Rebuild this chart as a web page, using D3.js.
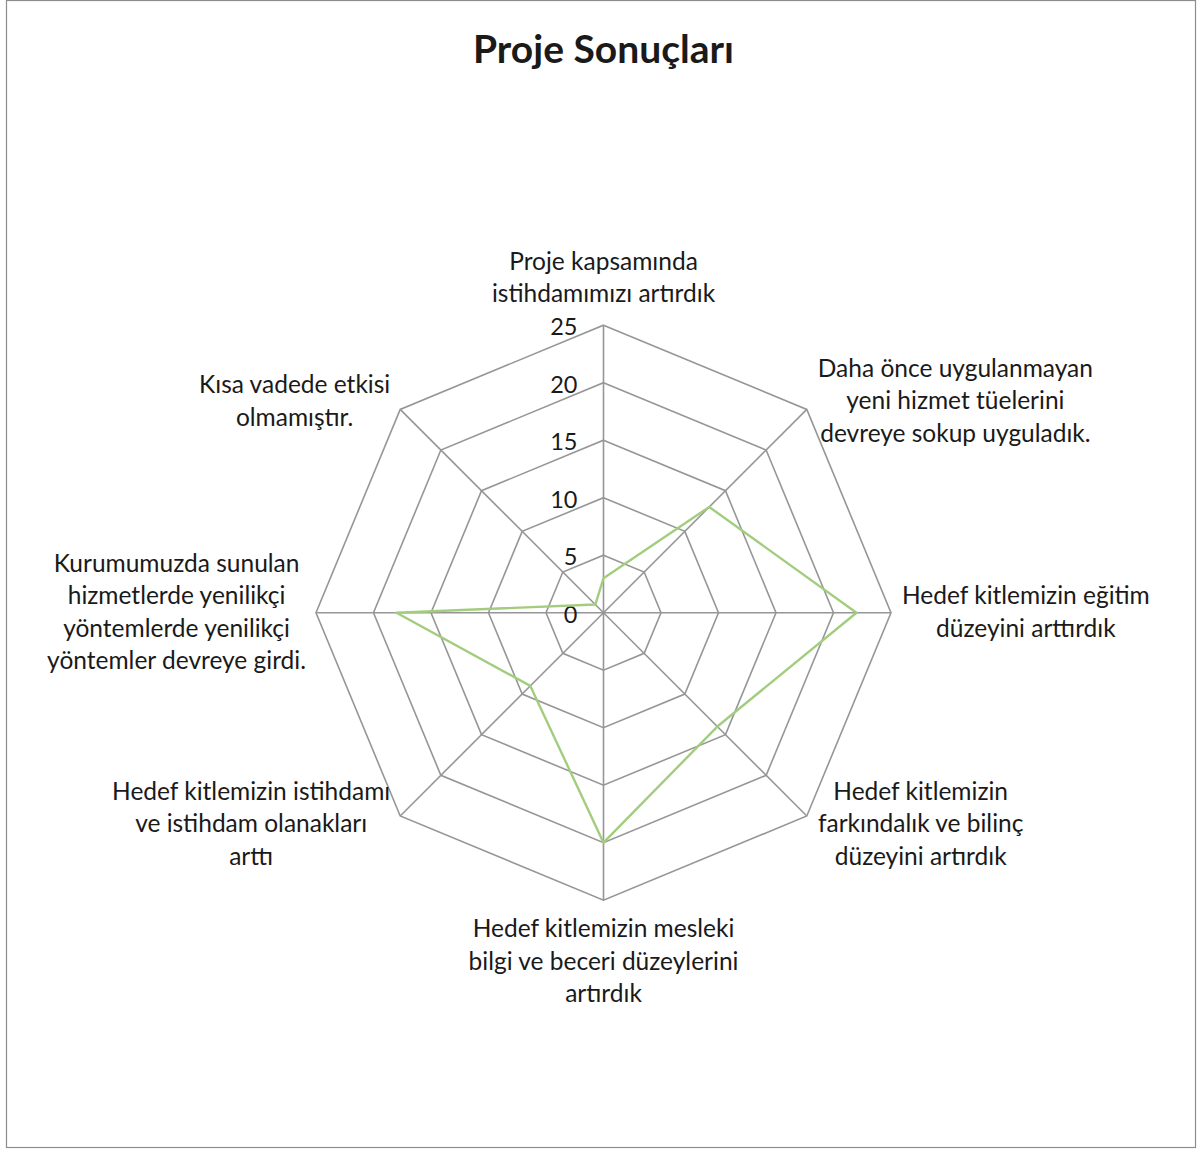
<!DOCTYPE html>
<html>
<head>
<meta charset="utf-8">
<script src="https://cdn.jsdelivr.net/npm/d3@7"></script>
<style>
body { margin: 0; background: #fff; }
text { font-family: Lato, "Open Sans", sans-serif; fill: #1a1a1a; }
</style>
</head>
<body>
<script>
// chart data
let title = "Proje Sonuçları";
let categories = [
	["Proje kapsamında", "istihdamımızı artırdık"],
	["Daha önce uygulanmayan", "yeni hizmet tüelerini", "devreye sokup uyguladık."],
	["Hedef kitlemizin eğitim", "düzeyini arttırdık"],
	["Hedef kitlemizin", "farkındalık ve bilinç", "düzeyini artırdık"],
	["Hedef kitlemizin mesleki", "bilgi ve beceri düzeylerini", "artırdık"],
	["Hedef kitlemizin istihdamı", "ve istihdam olanakları", "arttı"],
	["Kurumumuzda sunulan", "hizmetlerde yenilikçi", "yöntemlerde yenilikçi", "yöntemler devreye girdi."],
	["Kısa vadede etkisi", "olmamıştır."]
];
let values = [3, 13, 22, 14, 20, 9, 18, 1];
let tickValues = [0, 5, 10, 15, 20, 25];

let w = 1202;
let h = 1149;
let cx = 603.5, cy = 612.7;
let R = 287.5;
let lineH = 32.5;

let svg = d3.select("body").append("svg").attr("width", w).attr("height", h);

svg.append("rect")
	.attr("x", 6.5).attr("y", 0.5)
	.attr("width", 1189).attr("height", 1147)
	.attr("fill", "none")
	.attr("stroke", "#8c8c8c")
	.attr("stroke-width", 1.2);

svg.append("text")
	.attr("x", cx)
	.attr("y", 63)
	.attr("text-anchor", "middle")
	.attr("font-size", "39px")
	.attr("font-weight", "bold")
	.text(title);

let n = categories.length;
let r = d3.scaleLinear().domain([0, 25]).range([0, R]);
let ang = function(i) { return i * 2 * Math.PI / n; };

let g = svg.append("g").attr("transform", "translate(" + cx + "," + cy + ")");

// rings
let ring = d3.lineRadial()
	.angle(function(d, i) { return ang(i); })
	.radius(function(d) { return r(d); })
	.curve(d3.curveLinearClosed);

g.selectAll("path.ring")
	.data(tickValues.filter(function(t) { return t > 0; }))
	.enter()
	.append("path")
	.attr("class", "ring")
	.attr("d", function(t) { return ring(d3.range(n).map(function() { return t; })); })
	.attr("fill", "none")
	.attr("stroke", "#969696")
	.attr("stroke-width", 1.6);

// spokes
g.selectAll("line.spoke")
	.data(d3.range(n))
	.enter()
	.append("line")
	.attr("class", "spoke")
	.attr("x1", 0).attr("y1", 0)
	.attr("x2", function(i) { return r(25) * Math.sin(ang(i)); })
	.attr("y2", function(i) { return -r(25) * Math.cos(ang(i)); })
	.attr("stroke", "#969696")
	.attr("stroke-width", 1.6);

// tick labels
g.selectAll("text.tick")
	.data(tickValues)
	.enter()
	.append("text")
	.attr("class", "tick")
	.attr("x", -26)
	.attr("y", function(t) { return -r(t) + 2; })
	.attr("dy", "0.35em")
	.attr("text-anchor", "end")
	.attr("font-size", "23.5px")
	.text(function(t) { return t; });

// series
g.append("path")
	.datum(values)
	.attr("d", ring)
	.attr("fill", "none")
	.attr("stroke", "#a3cd7e")
	.attr("stroke-width", 2.4)
	.attr("stroke-linejoin", "round");

// category labels
categories.forEach(function(lines, i) {
	let a = ang(i);
	let s = Math.sin(a), c = Math.cos(a);
	let tx = r(25) * s, ty = -r(25) * c;
	let t = g.append("text")
		.attr("text-anchor", "middle")
		.attr("font-size", "24.5px");
	t.selectAll("tspan")
		.data(lines)
		.enter()
		.append("tspan")
		.attr("x", 0)
		.attr("y", function(d, k) { return k * lineH; })
		.text(function(d) { return d; });
	let bb = t.node().getBBox();
	let bw = bb.width, bh = (lines.length - 1) * lineH;
	let x, y;
	if (Math.abs(s) < 0.1) {
		x = tx;
		y = c > 0 ? ty - 23 - bh : ty + 37;
	} else {
		x = s > 0 ? tx + 11 + bw / 2 : tx - 10 - bw / 2;
		y = ty - bh / 2 + 8 - 11.5 * c;
	}
	t.attr("transform", "translate(" + x + "," + y + ")");
});
</script>
</body>
</html>
